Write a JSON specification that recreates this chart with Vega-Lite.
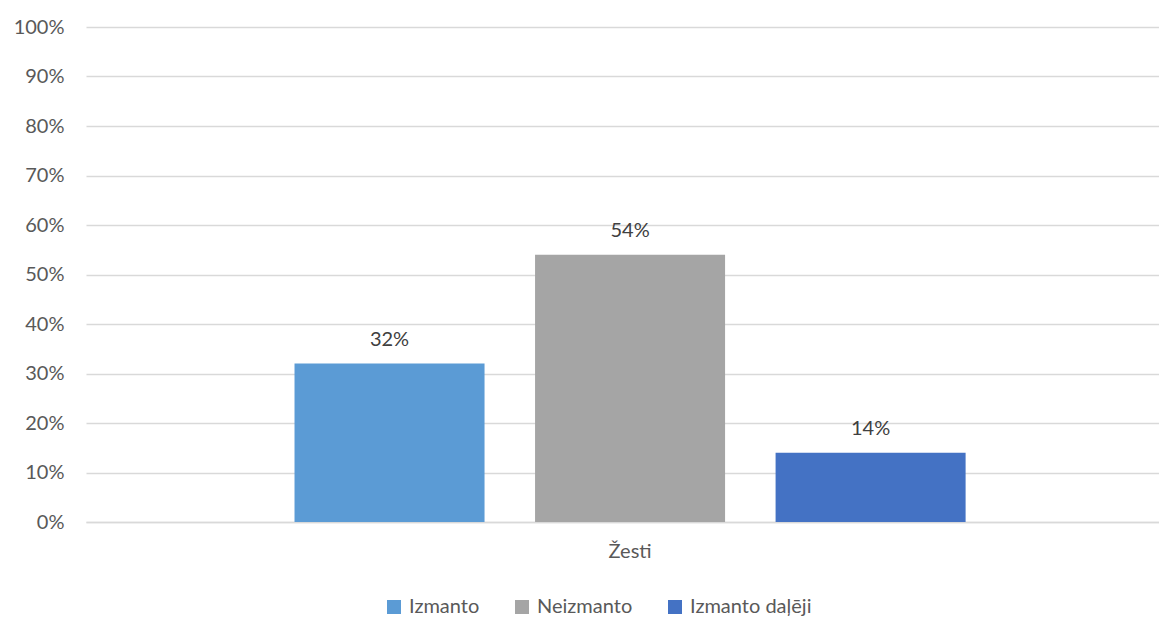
{
  "$schema": "https://vega.github.io/schema/vega-lite/v6.json",
  "width": 1073,
  "height": 495,
  "autosize": {"type": "none"},
  "padding": {"left": 86, "top": 27, "right": 0, "bottom": 95},
  "background": "white",
  "config": {
    "view": {"stroke": null},
    "font": "Lato"
  },
  "data": {
    "values": [
      {"cat": "Žesti", "series": "Izmanto", "value": 0.32},
      {"cat": "Žesti", "series": "Neizmanto", "value": 0.54},
      {"cat": "Žesti", "series": "Izmanto daļēji", "value": 0.14}
    ]
  },
  "encoding": {
    "x": {
      "field": "cat",
      "type": "nominal",
      "scale": {"paddingInner": 0, "paddingOuter": 0.0882, "align": 0.547},
      "axis": {"title": null, "labelAngle": 0, "ticks": false, "domainColor": "#D9D9D9", "domainWidth": 1.5, "labelPadding": 19, "labelFont": "Lato", "labelFontSize": 20, "labelColor": "#595959"}
    },
    "xOffset": {
      "field": "series",
      "type": "nominal",
      "sort": ["Izmanto", "Neizmanto", "Izmanto daļēji"],
      "scale": {"paddingInner": 0.21, "paddingOuter": 0.501}
    },
    "y": {
      "field": "value",
      "type": "quantitative",
      "scale": {"domain": [0, 1], "nice": false},
      "axis": {"title": null, "format": ".0%", "values": [0, 0.1, 0.2, 0.3, 0.4, 0.5, 0.6, 0.7, 0.8, 0.9, 1], "labelOverlap": false, "domain": false, "ticks": false, "labelPadding": 22, "gridColor": "#D9D9D9", "gridWidth": 1.5, "labelFont": "Lato", "labelFontSize": 20, "labelColor": "#595959"}
    }
  },
  "layer": [
    {
      "mark": {"type": "bar"},
      "encoding": {
        "color": {
          "field": "series",
          "type": "nominal",
          "sort": ["Izmanto", "Neizmanto", "Izmanto daļēji"],
          "scale": {"domain": ["Izmanto", "Neizmanto", "Izmanto daļēji"], "range": ["#5B9BD5", "#A5A5A5", "#4472C4"]},
          "legend": {"title": null, "orient": "none", "legendX": 298, "legendY": 570, "direction": "horizontal", "symbolType": "square", "symbolSize": 196, "symbolStrokeWidth": 0, "columnPadding": 32, "labelOffset": 5, "labelFont": "Lato", "labelFontSize": 20, "labelColor": "#595959"}
        }
      }
    },
    {
      "mark": {"type": "text", "dy": -18, "baseline": "alphabetic", "fontSize": 20, "color": "#404040", "font": "Lato"},
      "encoding": {
        "text": {"field": "value", "type": "quantitative", "format": ".0%"}
      }
    }
  ]
}
